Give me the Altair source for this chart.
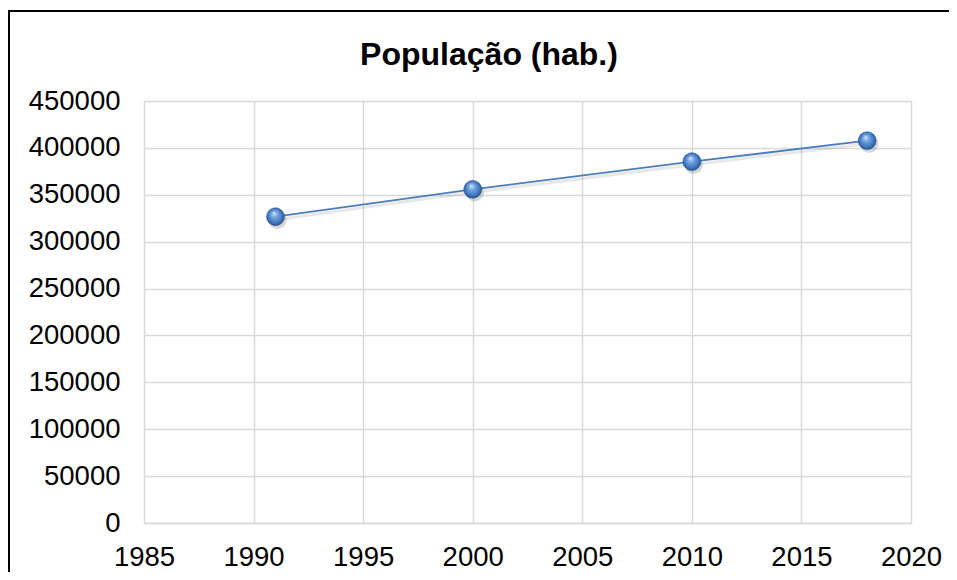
import altair as alt
import pandas as pd

years = [1991, 2000, 2010, 2018]
population = [326600, 355800, 385300, 407700]
x_ticks = [1985, 1990, 1995, 2000, 2005, 2010, 2015, 2020]
y_ticks = [0, 50000, 100000, 150000, 200000, 250000, 300000, 350000, 400000, 450000]
title_text = ["População (hab.)"]

df = pd.DataFrame({"Ano": years, "População": population})
df_title = pd.DataFrame({"t": title_text})

FONT = "Liberation Sans"

x_enc = alt.X("Ano:Q", scale=alt.Scale(domain=[1985, 2020], nice=False, zero=False),
              axis=alt.Axis(values=x_ticks, format="d", title=None, ticks=False,
                            labelPadding=20, labelFontSize=27.5, labelFont=FONT,
                            labelColor="#000000", grid=True, gridColor="#d9d9d9",
                            gridWidth=1.5, domainColor="#d9d9d9", domainWidth=1.5,
                            labelFlush=False))
y_enc = alt.Y("População:Q", scale=alt.Scale(domain=[0, 450000], nice=False),
              axis=alt.Axis(values=y_ticks, format="d", title=None, ticks=False,
                            labelPadding=24, labelFontSize=27.5, labelFont=FONT,
                            labelColor="#000000", grid=True, gridColor="#d9d9d9",
                            gridWidth=1.5, domain=False))

base = alt.Chart(df)

frame = base.mark_rect(fill=None, stroke="#000000", strokeWidth=1.6).encode(
    x=alt.value(-135), x2=alt.value(830), y=alt.value(-90), y2=alt.value(500)
)

title = alt.Chart(df_title).mark_text(
    font=FONT, fontSize=32, fontWeight="bold", color="#000000",
    align="center", baseline="alphabetic"
).encode(text="t:N", x=alt.value(345), y=alt.value(-36))

line_shadow = base.mark_line(color="#808080", opacity=0.18, strokeWidth=3, yOffset=3).encode(
    x=x_enc, y=y_enc)
line = base.mark_line(color="#4a7ebb", strokeWidth=1.8).encode(x=x_enc, y=y_enc)

pt_shadow = base.mark_circle(color="#606060", opacity=0.25, size=340, xOffset=2, yOffset=3).encode(
    x=x_enc, y=y_enc)

grad = alt.RadialGradient(
    gradient="radial", x1=0.42, y1=0.3, r1=0.0, x2=0.5, y2=0.5, r2=0.55,
    stops=[alt.GradientStop(offset=0, color="#e2edfb"),
           alt.GradientStop(offset=0.3, color="#78a8e2"),
           alt.GradientStop(offset=0.72, color="#4078c0"),
           alt.GradientStop(offset=1, color="#22467a")])
points = base.mark_circle(fill=grad, opacity=1, size=320, stroke="#2c5a94", strokeWidth=0.6).encode(
    x=x_enc, y=y_enc, tooltip=["Ano:Q", "População:Q"])

chart = alt.layer(frame, title, line_shadow, line, pt_shadow, points).properties(
    width=767, height=422,
    autosize=alt.AutoSizeParams(type="none"),
    padding={"left": 136, "top": 93, "right": 38, "bottom": 49},
).configure_view(stroke=None).configure(background="#ffffff")

chart.save("out.html", embed_options={"renderer": "svg", "actions": False})
